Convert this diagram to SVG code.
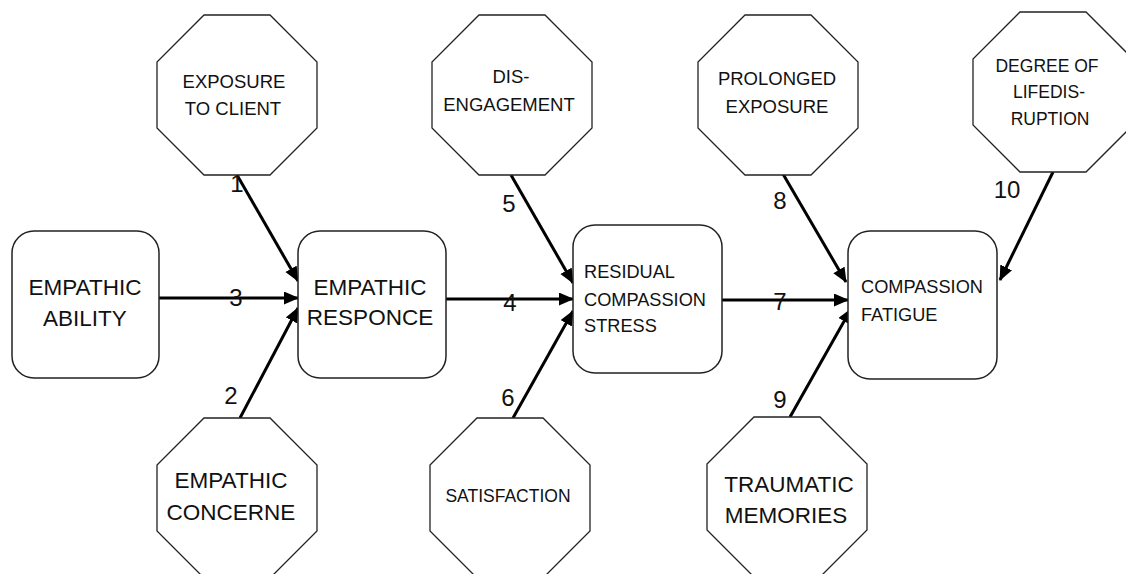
<svg xmlns="http://www.w3.org/2000/svg" xmlns:xlink="http://www.w3.org/1999/xlink" width="1126" height="574" viewBox="0 0 1126 574">
<style>
.oct{fill:#fff;stroke:#222;stroke-width:1.3}
.box{fill:#fff;stroke:#222;stroke-width:1.5}
.t{font-family:"Liberation Sans",Arial,sans-serif;fill:#111}
.c{text-anchor:middle}
.big{font-size:22.5px}
.mid{font-size:18.5px}
.sm{font-size:17.5px}
.sm2{font-size:18.2px}
.num{font-family:"Liberation Sans",Arial,sans-serif;font-size:24px;fill:#111;text-anchor:middle}
.con{stroke:#000;stroke-width:3;fill:none;marker-end:url(#ah)}
</style>
<defs>
<polygon id="octo" points="-33,-80 33,-80 80,-33 80,33 33,80 -33,80 -80,33 -80,-33"/>
<marker id="ah" markerUnits="userSpaceOnUse" markerWidth="16" markerHeight="14" refX="14" refY="6.5" orient="auto">
<path d="M0,0 L15,6.5 L0,13 z" fill="#000"/>
</marker>
</defs>
<rect width="1126" height="574" fill="#fff"/>

<g id="connectors">
<line class="con" x1="237" y1="175" x2="298" y2="281"/>
<line class="con" x1="240" y1="418" x2="298" y2="308"/>
<line class="con" x1="159" y1="298" x2="298" y2="298"/>
<line class="con" x1="446" y1="299" x2="573" y2="299"/>
<line class="con" x1="511" y1="175" x2="573" y2="283"/>
<line class="con" x1="513" y1="418" x2="573" y2="311"/>
<line class="con" x1="722" y1="300" x2="848" y2="300"/>
<line class="con" x1="783" y1="174" x2="846" y2="282"/>
<line class="con" x1="790" y1="417" x2="851" y2="309"/>
<line class="con" x1="1053" y1="172" x2="1000" y2="280"/>
<text class="num" x="237" y="192">1</text>
<text class="num" x="231" y="404">2</text>
<text class="num" x="236" y="306">3</text>
<text class="num" x="510" y="311">4</text>
<text class="num" x="509" y="212">5</text>
<text class="num" x="508" y="406">6</text>
<text class="num" x="780" y="310">7</text>
<text class="num" x="780" y="209">8</text>
<text class="num" x="780" y="408">9</text>
<text class="num" x="1007" y="198">10</text>
</g>

<g id="empathic-ability">
<rect class="box" x="12" y="231" width="147" height="147" rx="22"/>
<text class="t c big" x="85" y="295">EMPATHIC</text>
<text class="t c big" x="85" y="326">ABILITY</text>
</g>

<g id="empathic-responce">
<rect class="box" x="298" y="231" width="148" height="147" rx="22"/>
<text class="t c big" x="370" y="295">EMPATHIC</text>
<text class="t c big" x="370" y="325">RESPONCE</text>
</g>

<g id="residual-compassion-stress">
<rect class="box" x="573" y="225" width="149" height="148" rx="22"/>
<text class="t sm2" x="584" y="278">RESIDUAL</text>
<text class="t sm2" x="584" y="306">COMPASSION</text>
<text class="t sm2" x="584" y="332">STRESS</text>
</g>

<g id="compassion-fatigue">
<rect class="box" x="848" y="231" width="149" height="148" rx="22"/>
<text class="t sm2" x="861" y="293">COMPASSION</text>
<text class="t sm2" x="861" y="321">FATIGUE</text>
</g>

<g id="exposure-to-client">
<use xlink:href="#octo" href="#octo" class="oct" x="237" y="95"/>
<text class="t c mid" x="234" y="88">EXPOSURE</text>
<text class="t c mid" x="233" y="115">TO CLIENT</text>
</g>

<g id="empathic-concerne">
<use xlink:href="#octo" href="#octo" class="oct" x="237" y="498"/>
<text class="t c big" x="231" y="488">EMPATHIC</text>
<text class="t c big" x="231" y="520">CONCERNE</text>
</g>

<g id="dis-engagement">
<use xlink:href="#octo" href="#octo" class="oct" x="512" y="95"/>
<text class="t c mid" x="511" y="83">DIS-</text>
<text class="t c mid" x="509" y="111">ENGAGEMENT</text>
</g>

<g id="satisfaction">
<use xlink:href="#octo" href="#octo" class="oct" x="510" y="498"/>
<text class="t c sm" x="508" y="502">SATISFACTION</text>
</g>

<g id="prolonged-exposure">
<use xlink:href="#octo" href="#octo" class="oct" x="778" y="95"/>
<text class="t c mid" x="777" y="85">PROLONGED</text>
<text class="t c mid" x="777" y="113">EXPOSURE</text>
</g>

<g id="traumatic-memories">
<use xlink:href="#octo" href="#octo" class="oct" x="787" y="497"/>
<text class="t c big" x="789" y="492">TRAUMATIC</text>
<text class="t c big" x="786" y="523">MEMORIES</text>
</g>

<g id="degree-of-life-disruption">
<use xlink:href="#octo" href="#octo" class="oct" x="1053" y="92"/>
<text class="t c sm" x="1047" y="72">DEGREE OF</text>
<text class="t c sm" x="1049" y="98">LIFEDIS-</text>
<text class="t c sm" x="1050" y="125">RUPTION</text>
</g>
</svg>
